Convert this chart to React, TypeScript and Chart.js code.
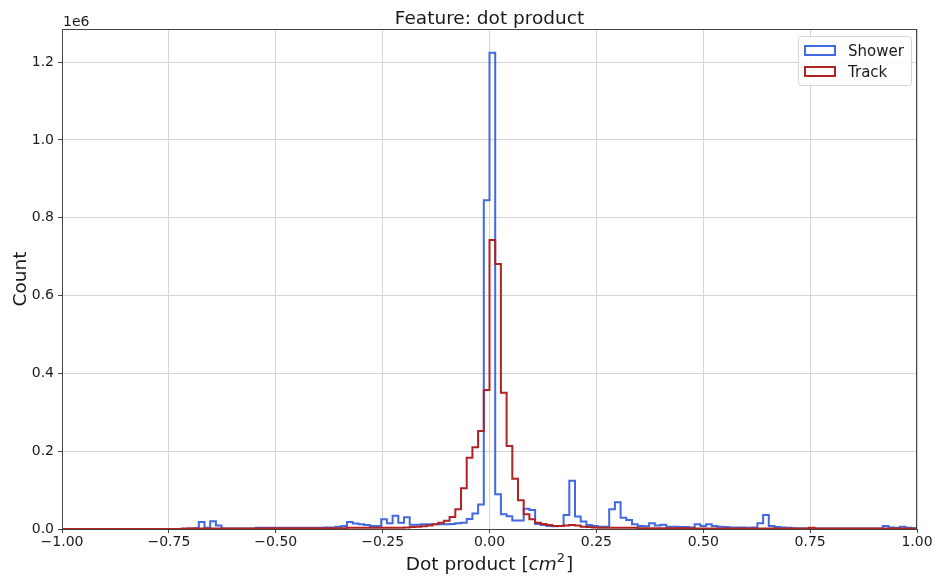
import React, { useEffect, useRef } from "react";
import { Chart, registerables } from "chart.js";

Chart.register(...registerables);

// Histogram range and binning of the dot-product feature
const X_MIN = -1;
const X_MAX = 1;
const Y_MAX = 1285000;

// Counts per bin (150 equal bins from -1 to 1)
const showerCounts = [
  0, 0, 0, 0, 0, 0, 0, 0, 0, 0,
  0, 0, 0, 0, 0, 0, 0, 0, 0, 0,
  0, 0, 1000, 2000, 18000, 3000, 20000, 9000, 1000, 1000,
  1000, 1000, 1000, 1000, 3000, 3000, 3000, 3000, 3000, 3000,
  3000, 3000, 3000, 3000, 3000, 3000, 4000, 4000, 6000, 8000,
  18000, 14000, 12000, 10000, 8000, 8000, 25000, 15000, 34000, 16000,
  30000, 11000, 11000, 12000, 12000, 12000, 12000, 12000, 13000, 15000,
  16000, 26000, 40000, 63000, 845000, 1224000, 89000, 38000, 33000, 22000,
  22000, 52000, 49000, 13000, 10000, 8000, 7000, 8000, 36000, 124000,
  32000, 19000, 10000, 8000, 6000, 6000, 51000, 69000, 29000, 23000,
  12000, 8000, 7000, 15000, 9000, 11000, 6000, 6000, 5000, 5000,
  4000, 12000, 8000, 12000, 8000, 6000, 5000, 4000, 4000, 4000,
  3000, 4000, 15000, 36000, 8000, 5000, 4000, 3000, 2000, 1000,
  1000, 2000, 1000, 1000, 1000, 1000, 1000, 1000, 1000, 1000,
  1000, 1000, 1000, 1000, 8000, 4000, 3000, 6000, 3000, 2000,
];

const trackCounts = [
  0, 0, 0, 0, 0, 0, 0, 0, 0, 0,
  0, 0, 0, 0, 0, 0, 0, 0, 0, 0,
  0, 1000, 1000, 1000, 1000, 1000, 1000, 1000, 1000, 1000,
  1000, 1000, 1000, 1000, 1000, 2000, 2000, 2000, 2000, 2000,
  2000, 2000, 2000, 2000, 2000, 2000, 2000, 2000, 2000, 2000,
  3000, 3000, 3000, 3000, 3000, 3000, 3000, 3000, 3000, 3000,
  4000, 5000, 6000, 7000, 9000, 12000, 16000, 21000, 31000, 51000,
  105000, 183000, 210000, 252000, 357000, 743000, 681000, 350000, 213000, 129000,
  74000, 38000, 25000, 16000, 13000, 10000, 8000, 8000, 9000, 10000,
  9000, 6000, 5000, 4000, 3000, 3000, 3000, 3000, 3000, 3000,
  3000, 2000, 2000, 2000, 2000, 2000, 2000, 2000, 2000, 2000,
  2000, 1000, 1000, 1000, 1000, 1000, 1000, 1000, 1000, 1000,
  1000, 1000, 1000, 1000, 1000, 1000, 1000, 1000, 1000, 1000,
  1000, 3000, 1000, 1000, 1000, 1000, 1000, 1000, 1000, 1000,
  1000, 1000, 1000, 1000, 1000, 1000, 1000, 1000, 1000, 1000,
];

const xTickValues = [-1, -0.75, -0.5, -0.25, 0, 0.25, 0.5, 0.75, 1];
const yTickValues = [0, 200000, 400000, 600000, 800000, 1000000, 1200000];

const seriesNames = ["Shower", "Track"];
const seriesColors = ["#4169e1", "#b22222"];

const FONT = "'DejaVu Sans', sans-serif";

// Outline of a step histogram: each count holds from its left edge to the next edge
function stepOutline(counts: number[]) {
  const width = (X_MAX - X_MIN) / counts.length;
  const pts: { x: number; y: number }[] = [{ x: X_MIN, y: 0 }];
  counts.forEach((c, i) => pts.push({ x: X_MIN + i * width, y: c }));
  pts.push({ x: X_MAX, y: counts[counts.length - 1] });
  pts.push({ x: X_MAX, y: 0 });
  return pts;
}

const fmtMinus = (s: string) => s.replace("-", "\u2212");

// Frame, title, axis labels, offset text and legend
const decorations = {
  id: "decorations",
  afterDraw(chart: any) {
    const { ctx, chartArea } = chart;
    const { left, right, top, bottom } = chartArea;
    ctx.save();

    ctx.strokeStyle = "#444";
    ctx.lineWidth = 1;
    ctx.strokeRect(left + 0.5, top + 0.5, right - left - 1, bottom - top);

    ctx.fillStyle = "#1a1a1a";
    ctx.textBaseline = "alphabetic";

    ctx.font = `18.5px ${FONT}`;
    ctx.textAlign = "center";
    ctx.fillText("Feature: dot product", (left + right) / 2, 24);

    ctx.font = `14px ${FONT}`;
    ctx.textAlign = "left";
    ctx.fillText("1e6", left + 1, 26);

    // y-axis title
    ctx.save();
    ctx.translate(26, (top + bottom) / 2);
    ctx.rotate(-Math.PI / 2);
    ctx.font = `18.5px ${FONT}`;
    ctx.textAlign = "center";
    ctx.fillText("Count", 0, 0);
    ctx.restore();

    // x-axis title with math-style unit
    const parts = [
      { t: "Dot product [", f: `18.5px ${FONT}`, dy: 0 },
      { t: "cm", f: `oblique 18.5px ${FONT}`, dy: 0 },
      { t: "2", f: `13px ${FONT}`, dy: -8 },
      { t: "]", f: `18.5px ${FONT}`, dy: 0 },
    ];
    let total = 0;
    parts.forEach((p) => {
      ctx.font = p.f;
      total += ctx.measureText(p.t).width + (p.t === "]" ? 1 : 0);
    });
    let x = (left + right) / 2 - total / 2;
    ctx.textAlign = "left";
    parts.forEach((p) => {
      ctx.font = p.f;
      if (p.t === "]") x += 1;
      ctx.fillText(p.t, x, 570 + p.dy);
      x += ctx.measureText(p.t).width;
    });

    // legend
    const lx = 798, ly = 36.5, lw = 113, lh = 49;
    ctx.beginPath();
    ctx.roundRect(lx + 0.5, ly, lw, lh, 3);
    ctx.fillStyle = "rgba(255,255,255,0.8)";
    ctx.fill();
    ctx.strokeStyle = "#d6d6d6";
    ctx.lineWidth = 1;
    ctx.stroke();
    ctx.lineWidth = 2;
    ctx.font = `15px ${FONT}`;
    seriesNames.forEach((name, i) => {
      const y = 46 + i * 21;
      ctx.strokeStyle = seriesColors[i];
      ctx.strokeRect(805, y, 30, 9);
      ctx.fillStyle = "#1a1a1a";
      ctx.fillText(name, 848, y + 9.5);
    });

    ctx.restore();
  },
};

export default function App() {
  const canvasRef = useRef<HTMLCanvasElement | null>(null);

  useEffect(() => {
    if (!canvasRef.current) return;
    const chart = new Chart(canvasRef.current, {
      type: "line",
      data: {
        datasets: [
          {
            label: seriesNames[0],
            data: stepOutline(showerCounts),
            borderColor: seriesColors[0],
            borderWidth: 2,
            stepped: "before",
            pointRadius: 0,
            fill: false,
            order: 1,
          },
          {
            label: seriesNames[1],
            data: stepOutline(trackCounts),
            borderColor: seriesColors[1],
            borderWidth: 2,
            stepped: "before",
            pointRadius: 0,
            fill: false,
            order: 0,
          },
        ],
      },
      options: {
        animation: false,
        responsive: false,
        maintainAspectRatio: false,
        layout: { padding: { top: 29, right: 21, left: 0, bottom: 0 } },
        plugins: {
          legend: { display: false },
          tooltip: { enabled: false },
        },
        scales: {
          x: {
            type: "linear",
            min: X_MIN,
            max: X_MAX,
            afterBuildTicks: (scale: any) => {
              scale.ticks = xTickValues.map((v) => ({ value: v }));
            },
            afterFit: (scale: any) => {
              scale.height = 50;
            },
            grid: { color: "#d4d4d4", tickColor: "#444", tickLength: 4 },
            border: { display: false },
            ticks: {
              color: "#1a1a1a",
              font: { family: FONT, size: 14 },
              padding: 1,
              maxRotation: 0,
              callback: (v: any) => fmtMinus(Number(v).toFixed(2)),
            },
          },
          y: {
            type: "linear",
            min: 0,
            max: Y_MAX,
            afterBuildTicks: (scale: any) => {
              scale.ticks = yTickValues.map((v) => ({ value: v }));
            },
            afterFit: (scale: any) => {
              scale.width = 62;
            },
            grid: { color: "#d4d4d4", tickColor: "#444", tickLength: 4 },
            border: { display: false },
            ticks: {
              color: "#1a1a1a",
              font: { family: FONT, size: 14 },
              padding: 4,
              callback: (v: any) => (Number(v) / 1e6).toFixed(1),
            },
          },
        },
      },
      plugins: [decorations],
    });
    return () => chart.destroy();
  }, []);

  return (
    <div style={{ position: "absolute", left: 0, top: 0, width: 938, height: 579, background: "#fff" }}>
      <canvas ref={canvasRef} width={938} height={579} />
    </div>
  );
}
